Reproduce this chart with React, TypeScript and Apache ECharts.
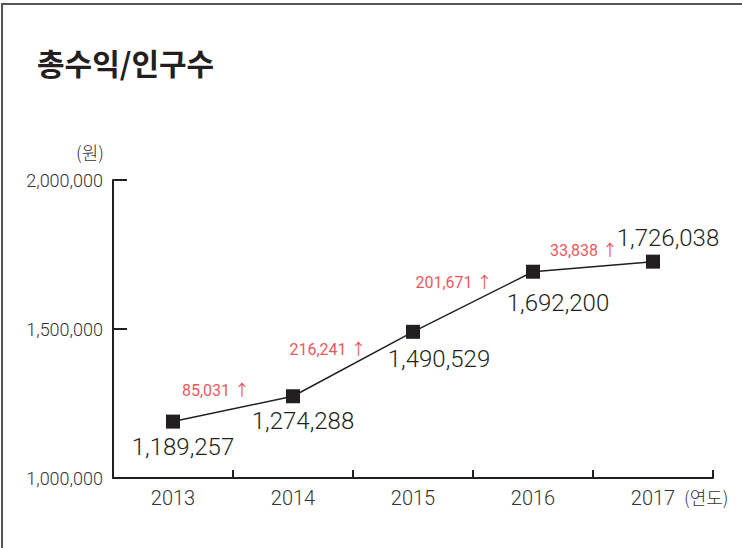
import React, { useEffect, useRef } from "react";
import * as echarts from "echarts";

const years = ["2013", "2014", "2015", "2016", "2017"];
const values = [1189257, 1274288, 1490529, 1692200, 1726038];
const increases = [85031, 216241, 201671, 33838];
const yTicks = [1000000, 1500000, 2000000];

const valueLabelOffsets: [number, number][] = [
  [10, 25],
  [10, 25],
  [26, 27],
  [25, 31],
  [15, -24],
];
const incLabelOffsets: [number, number][] = [
  [-17, -18],
  [-25, -15],
  [-19, -19],
  [-9, -16],
];

const fmt = (v: number) => v.toLocaleString("en-US");
const NUM_FONT = "Roboto, 'Noto Sans CJK KR', sans-serif";
const KR_FONT = "'Noto Sans CJK KR', 'Noto Sans', sans-serif";

export default function App() {
  const ref = useRef<HTMLDivElement>(null);
  useEffect(() => {
    document.body.style.margin = "0";
    if (!ref.current) return;
    const chart = echarts.init(ref.current, undefined, { renderer: "svg" });
    const incData = increases.map((inc, i) => ({
      value: [i + 1, (values[i] + values[i + 1]) / 2],
      label: {
        offset: incLabelOffsets[i],
        formatter: fmt(inc) + " \u2191",
      },
    }));
    chart.setOption({
      animation: false,
      backgroundColor: "#ffffff",
      grid: { left: 113, top: 180, width: 600, height: 298, containLabel: false },
      xAxis: [
        {
          type: "category",
          data: years,
          boundaryGap: true,
          axisLine: { show: true, lineStyle: { color: "#231f20", width: 2 } },
          axisTick: { show: true, inside: true, length: 8, interval: 0, alignWithLabel: false, lineStyle: { color: "#231f20", width: 2 } },
          axisLabel: { color: "#333333", fontSize: 20, fontWeight: 300, margin: 10, fontFamily: NUM_FONT },
          splitLine: { show: false },
        },
        { type: "value", min: 0, max: 5, show: false, splitLine: { show: false } },
      ],
      yAxis: {
        type: "value",
        min: yTicks[0],
        max: yTicks[yTicks.length - 1],
        interval: 500000,
        axisLine: { show: true, lineStyle: { color: "#231f20", width: 2 } },
        axisTick: { show: true, inside: true, length: 14, lineStyle: { color: "#231f20", width: 2 } },
        axisLabel: { color: "#333333", fontSize: 18, fontWeight: 300, margin: 10, fontFamily: NUM_FONT, formatter: (v: number) => fmt(v) },
        splitLine: { show: false },
      },
      series: [
        {
          type: "line",
          data: values.map((v, i) => ({
            value: v,
            label: { offset: valueLabelOffsets[i] },
          })),
          symbol: "rect",
          symbolSize: 14,
          itemStyle: { color: "#231f20" },
          lineStyle: { color: "#231f20", width: 1.5 },
          label: {
            show: true,
            position: "inside",
            color: "#231f20",
            fontSize: 24,
            fontWeight: 300,
            fontFamily: NUM_FONT,
            formatter: (p: any) => fmt(p.value),
          },
          z: 3,
        },
        {
          type: "scatter",
          xAxisIndex: 1,
          data: incData,
          symbolSize: 0,
          itemStyle: { color: "transparent" },
          label: {
            show: true,
            position: "inside",
            color: "#e8262f",
            fontSize: 16,
            fontWeight: "normal",
            fontFamily: NUM_FONT,
          },
          silent: true,
        },
      ],
      graphic: [
        {
          type: "rect",
          shape: { x: 2, y: 4, width: 800, height: 600 },
          style: { fill: "none", stroke: "#555555", lineWidth: 2 },
          silent: true,
        },
        {
          type: "text",
          x: 37,
          y: 62,
          style: {
            text: "총수익/인구수",
            fill: "#231f20",
            font: "bold 30px 'Noto Sans CJK KR', sans-serif",
            textVerticalAlign: "middle",
          },
        },
        {
          type: "text",
          x: 90,
          y: 152,
          style: {
            text: "(원)",
            fill: "#333333",
            font: "300 18px " + KR_FONT,
            textAlign: "center",
            textVerticalAlign: "middle",
          },
        },
        {
          type: "text",
          x: 684,
          y: 497,
          style: {
            text: "(연도)",
            fill: "#333333",
            font: "300 18px " + KR_FONT,
            textAlign: "left",
            textVerticalAlign: "middle",
          },
        },
      ],
    });
    return () => chart.dispose();
  }, []);
  return <div ref={ref} style={{ width: 742, height: 548 }} />;
}
